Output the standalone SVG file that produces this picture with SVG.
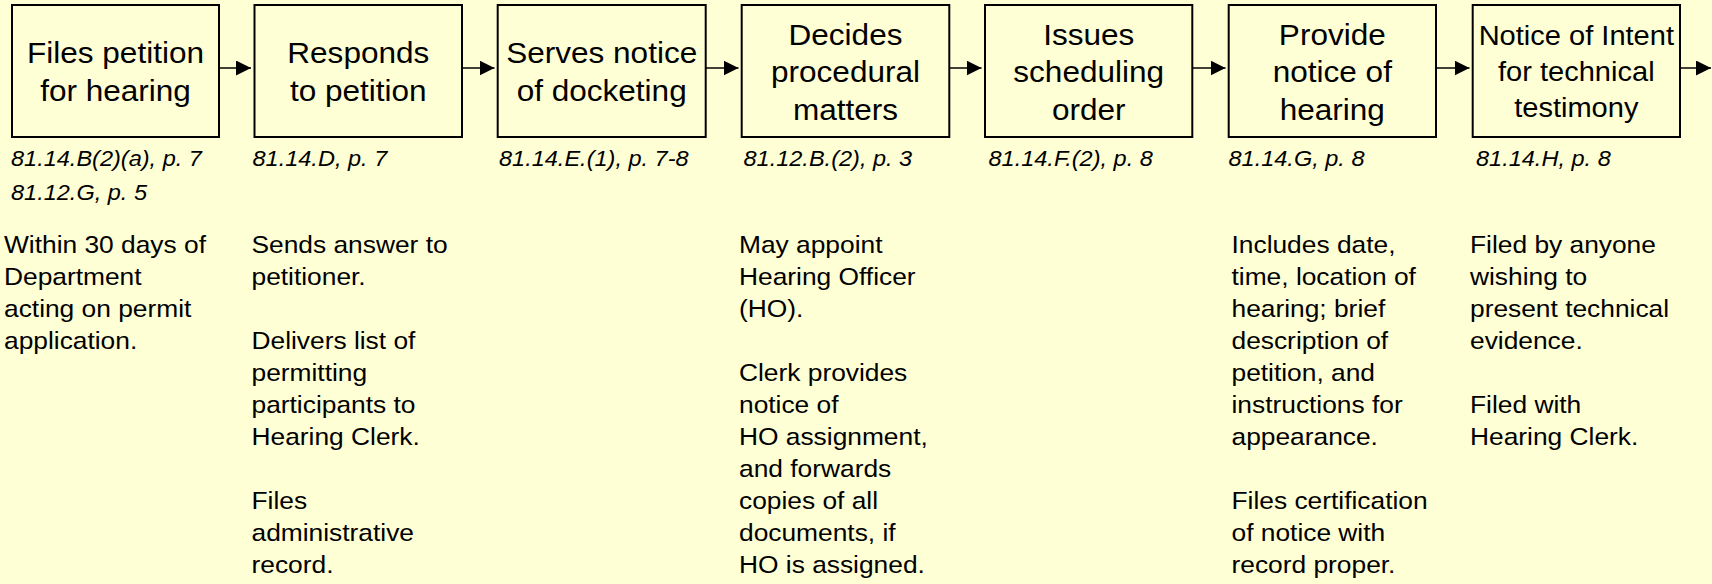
<svg xmlns="http://www.w3.org/2000/svg" width="1712" height="584" viewBox="0 0 1712 584">
<defs>
<style>
.bg{fill:#FFFFD6}
.box{fill:#FFFFD6;stroke:#000;stroke-width:2}
.bt{font-family:"Liberation Sans",Arial,sans-serif;font-size:29.2px;fill:#000;text-anchor:middle}
.bt7{font-family:"Liberation Sans",Arial,sans-serif;font-size:26.9px;fill:#000;text-anchor:middle}
.ref{font-family:"Liberation Sans",Arial,sans-serif;font-size:21.8px;font-style:italic;fill:#000}
.body{font-family:"Liberation Sans",Arial,sans-serif;font-size:24.4px;fill:#000}
.conn{stroke:#000;stroke-width:1.5;fill:none;marker-end:url(#ah)}
</style>
<marker id="ah" markerUnits="userSpaceOnUse" markerWidth="15" markerHeight="15" refX="15" refY="7.5" orient="auto">
<path d="M0,0 L15,7.5 L0,15 Z" fill="#000"/>
</marker>
</defs>
<rect class="bg" x="0" y="0" width="1712" height="584"/>

<g id="connectors">
<line class="conn" x1="219.5" y1="68" x2="251" y2="68"/>
<line class="conn" x1="462" y1="68" x2="494.5" y2="68"/>
<line class="conn" x1="705.5" y1="68" x2="738.5" y2="68"/>
<line class="conn" x1="949.5" y1="68" x2="981.5" y2="68"/>
<line class="conn" x1="1192.5" y1="68" x2="1225.5" y2="68"/>
<line class="conn" x1="1436.5" y1="68" x2="1469.5" y2="68"/>
<line class="conn" x1="1680.5" y1="68" x2="1711" y2="68"/>
</g>

<g id="node1">
<rect class="box" x="12" y="5" width="207" height="132"/>
<g transform="translate(115.5,0) scale(1.08,1)">
<text class="bt" x="0" y="63.3">Files petition</text>
<text class="bt" x="0" y="101">for hearing</text>
</g>
<g transform="translate(11,0) scale(1.08,1)">
<text class="ref" x="0" y="165.7">81.14.B(2)(a), p. 7</text>
<text class="ref" x="0" y="200">81.12.G, p. 5</text>
</g>
<g transform="translate(4,0) scale(1.08,1)">
<text class="body" x="0" y="253.3">Within 30 days of</text>
<text class="body" x="0" y="285.3">Department</text>
<text class="body" x="0" y="317.3">acting on permit</text>
<text class="body" x="0" y="349.3">application.</text>
</g>
</g>

<g id="node2">
<rect class="box" x="254.5" y="5" width="207.5" height="132"/>
<g transform="translate(358.3,0) scale(1.08,1)">
<text class="bt" x="0" y="63.3">Responds</text>
<text class="bt" x="0" y="101">to petition</text>
</g>
<g transform="translate(252.5,0) scale(1.08,1)">
<text class="ref" x="0" y="165.7">81.14.D, p. 7</text>
</g>
<g transform="translate(251.5,0) scale(1.08,1)">
<text class="body" x="0" y="253.3">Sends answer to</text>
<text class="body" x="0" y="285.3">petitioner.</text>
<text class="body" x="0" y="349.3">Delivers list of</text>
<text class="body" x="0" y="381.3">permitting</text>
<text class="body" x="0" y="413.3">participants to</text>
<text class="body" x="0" y="445.3">Hearing Clerk.</text>
<text class="body" x="0" y="509.3">Files</text>
<text class="body" x="0" y="541.3">administrative</text>
<text class="body" x="0" y="573.3">record.</text>
</g>
</g>

<g id="node3">
<rect class="box" x="497.7" y="5" width="208" height="132"/>
<g transform="translate(601.7,0) scale(1.08,1)">
<text class="bt" x="0" y="63.3">Serves notice</text>
<text class="bt" x="0" y="101">of docketing</text>
</g>
<g transform="translate(499,0) scale(1.08,1)">
<text class="ref" x="0" y="165.7">81.14.E.(1), p. 7-8</text>
</g>
</g>

<g id="node4">
<rect class="box" x="741.7" y="5" width="207.6" height="132"/>
<g transform="translate(845.5,0) scale(1.08,1)">
<text class="bt" x="0" y="45">Decides</text>
<text class="bt" x="0" y="82.5">procedural</text>
<text class="bt" x="0" y="120">matters</text>
</g>
<g transform="translate(743.5,0) scale(1.08,1)">
<text class="ref" x="0" y="165.7">81.12.B.(2), p. 3</text>
</g>
<g transform="translate(739,0) scale(1.08,1)">
<text class="body" x="0" y="253.3">May appoint</text>
<text class="body" x="0" y="285.3">Hearing Officer</text>
<text class="body" x="0" y="317.3">(HO).</text>
<text class="body" x="0" y="381.3">Clerk provides</text>
<text class="body" x="0" y="413.3">notice of</text>
<text class="body" x="0" y="445.3">HO assignment,</text>
<text class="body" x="0" y="477.3">and forwards</text>
<text class="body" x="0" y="509.3">copies of all</text>
<text class="body" x="0" y="541.3">documents, if</text>
<text class="body" x="0" y="573.3">HO is assigned.</text>
</g>
</g>

<g id="node5">
<rect class="box" x="985" y="5" width="207.3" height="132"/>
<g transform="translate(1088.7,0) scale(1.08,1)">
<text class="bt" x="0" y="45">Issues</text>
<text class="bt" x="0" y="82.5">scheduling</text>
<text class="bt" x="0" y="120">order</text>
</g>
<g transform="translate(988.5,0) scale(1.08,1)">
<text class="ref" x="0" y="165.7">81.14.F.(2), p. 8</text>
</g>
</g>

<g id="node6">
<rect class="box" x="1228.7" y="5" width="207.3" height="132"/>
<g transform="translate(1332.3,0) scale(1.08,1)">
<text class="bt" x="0" y="45">Provide</text>
<text class="bt" x="0" y="82.5">notice of</text>
<text class="bt" x="0" y="120">hearing</text>
</g>
<g transform="translate(1228.5,0) scale(1.08,1)">
<text class="ref" x="0" y="165.7">81.14.G, p. 8</text>
</g>
<g transform="translate(1231.5,0) scale(1.08,1)">
<text class="body" x="0" y="253.3">Includes date,</text>
<text class="body" x="0" y="285.3">time, location of</text>
<text class="body" x="0" y="317.3">hearing; brief</text>
<text class="body" x="0" y="349.3">description of</text>
<text class="body" x="0" y="381.3">petition, and</text>
<text class="body" x="0" y="413.3">instructions for</text>
<text class="body" x="0" y="445.3">appearance.</text>
<text class="body" x="0" y="509.3">Files certification</text>
<text class="body" x="0" y="541.3">of notice with</text>
<text class="body" x="0" y="573.3">record proper.</text>
</g>
</g>

<g id="node7">
<rect class="box" x="1472.7" y="5" width="207.3" height="132"/>
<g transform="translate(1576.3,0) scale(1.08,1)">
<text class="bt7" x="0" y="45">Notice of Intent</text>
<text class="bt7" x="0" y="81">for technical</text>
<text class="bt7" x="0" y="117">testimony</text>
</g>
<g transform="translate(1476,0) scale(1.08,1)">
<text class="ref" x="0" y="165.7">81.14.H, p. 8</text>
</g>
<g transform="translate(1470,0) scale(1.08,1)">
<text class="body" x="0" y="253.3">Filed by anyone</text>
<text class="body" x="0" y="285.3">wishing to</text>
<text class="body" x="0" y="317.3">present technical</text>
<text class="body" x="0" y="349.3">evidence.</text>
<text class="body" x="0" y="413.3">Filed with</text>
<text class="body" x="0" y="445.3">Hearing Clerk.</text>
</g>
</g>
</svg>
